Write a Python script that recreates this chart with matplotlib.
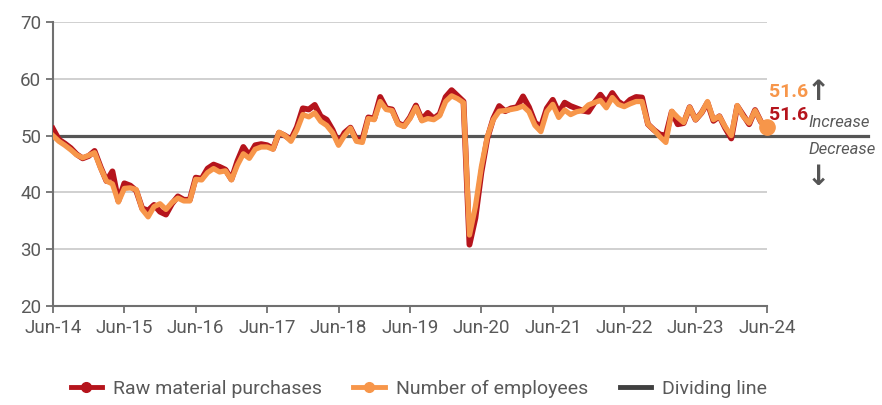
import numpy as np
import matplotlib
matplotlib.use("Agg")
from matplotlib import pyplot as plt
from matplotlib.lines import Line2D

plt.rcParams['font.family'] = ['Roboto', 'DejaVu Sans']

# monthly index values, Jun-14 .. Jun-24
raw_material = [
    51.2, 49.3, 48.6, 47.8, 46.7, 46.0, 46.4, 47.3, 44.5, 42.0, 43.7, 38.5,
    41.6, 41.2, 40.3, 37.2, 36.8, 37.8, 36.6, 36.1, 38.0, 39.3, 38.7, 38.7,
    42.6, 42.4, 44.2, 44.9, 44.5, 44.0, 42.3, 45.5, 48.0, 46.5, 48.3, 48.5,
    48.3, 47.7, 50.5, 50.0, 49.3, 51.5, 54.8, 54.6, 55.4, 53.4, 52.8, 51.0,
    48.6, 50.5, 51.4, 49.3, 49.3, 53.2, 53.0, 56.8, 54.8, 54.6, 52.2, 51.7,
    53.2, 55.3, 52.8, 54.0, 53.0, 53.8, 56.8, 58.0, 57.0, 56.0, 30.8, 35.5,
    43.5, 49.5, 53.0, 55.2, 54.3, 54.8, 55.0, 56.9, 55.0, 52.3, 51.5, 54.8,
    56.3, 54.0, 55.8, 55.2, 54.8, 54.4, 54.2, 55.8, 57.2, 55.8, 57.5, 56.0,
    55.3, 56.3, 56.8, 56.7, 52.0, 51.0, 50.2, 50.0, 54.2, 52.0, 52.2, 55.0,
    52.8, 54.0, 55.8, 52.6, 53.4, 51.3, 49.5, 55.2, 53.6, 52.0, 54.5, 52.4,
    51.6,
]
employees = [
    50.0, 49.0, 48.3, 47.5, 46.6, 46.1, 46.5, 47.0, 44.3, 42.0, 41.5, 38.3,
    40.7, 40.8, 40.5, 37.0, 35.7, 37.5, 38.0, 37.0, 38.2, 39.0, 38.5, 38.5,
    42.3, 42.2, 43.5, 44.2, 43.6, 43.8, 42.2, 44.8, 46.8, 46.0, 47.6, 48.0,
    48.0, 47.6, 50.6, 50.0, 49.0, 51.0, 53.7, 53.3, 54.0, 52.5, 51.8, 50.5,
    48.3, 50.0, 51.3, 49.0, 48.8, 53.0, 52.8, 56.0, 54.6, 54.4, 52.0, 51.6,
    53.0, 55.0, 52.6, 53.0, 52.8, 53.5, 56.0, 57.0, 56.5, 55.8, 32.5, 37.5,
    44.5, 49.8, 52.8, 54.3, 54.4, 54.6, 54.8, 55.2, 54.2, 51.8, 50.7, 54.2,
    55.5, 53.2, 54.5, 53.7, 54.2, 54.4, 55.4, 55.8, 56.2, 54.9, 56.7, 55.5,
    55.1, 55.6, 56.0, 56.0, 52.0, 51.0, 49.8, 48.8, 54.3, 53.2, 52.3, 55.0,
    52.8, 54.0, 56.0, 52.8, 53.4, 51.5, 50.0, 55.3, 53.4, 52.2, 54.4, 52.4,
    51.6,
]
tick_labels = ['Jun-14', 'Jun-15', 'Jun-16', 'Jun-17', 'Jun-18', 'Jun-19',
               'Jun-20', 'Jun-21', 'Jun-22', 'Jun-23', 'Jun-24']
dividing_value = 50

RED = '#B5141C'
ORANGE = '#F7964A'
DARK = '#555555'
GRAY = '#595959'

months = np.arange(len(raw_material))

fig = plt.figure(figsize=(8.82, 4.05), dpi=100)
ax = fig.add_axes([0.060, 0.2444, 0.8096, 0.7013])

# grid
for v in [20, 30, 40, 60, 70]:
    ax.axhline(v, color='#C8C8C8', lw=1.2, zorder=1)

# dividing line, runs past the plot into the annotation area
ax.plot([0, 137], [dividing_value, dividing_value], color=DARK, lw=2.3,
        zorder=2, clip_on=False)

ax.plot(months, raw_material, color=RED, lw=4.2, zorder=3,
        solid_joinstyle='round')
ax.plot(months, employees, color=ORANGE, lw=3.8, zorder=4,
        solid_joinstyle='round')
ax.plot(months[-1], employees[-1], 'o', color=ORANGE, ms=11, zorder=5,
        clip_on=False)

ax.set_xlim(0, 120)
ax.set_ylim(20, 70)
ax.set_xticks(months[::12])
ax.set_xticklabels(tick_labels)
ax.set_yticks([20, 30, 40, 50, 60, 70])

for s in ['top', 'right']:
    ax.spines[s].set_visible(False)
for s in ['left', 'bottom']:
    ax.spines[s].set_color('#707070')
    ax.spines[s].set_linewidth(1.5)
ax.tick_params(axis='both', colors='#707070', labelcolor=GRAY,
               labelsize=13.5, length=5, width=1.3)
ax.tick_params(axis='x', pad=4)

# end-value annotations
ax.text(120.4, 57.6, f'{employees[-1]:.1f}', color=ORANGE, fontsize=14,
        fontweight='bold', ha='left', va='center', clip_on=False)
ax.text(120.4, 53.6, f'{raw_material[-1]:.1f}', color=RED, fontsize=14,
        fontweight='bold', ha='left', va='center', clip_on=False)
ax.text(128.7, 57.6, '↑', color=DARK, fontsize=20, fontweight='bold',
        ha='center', va='center', family=['DejaVu Sans'], clip_on=False)
ax.text(126.9, 50.9, 'Increase', color=GRAY, fontsize=12, style='italic',
        ha='left', va='bottom', clip_on=False)
ax.text(126.9, 48.9, 'Decrease', color=GRAY, fontsize=12, style='italic',
        ha='left', va='top', clip_on=False)
ax.text(128.7, 42.8, '↓', color=DARK, fontsize=20, fontweight='bold',
        ha='center', va='center', family=['DejaVu Sans'], clip_on=False)

handles = [
    Line2D([], [], color=RED, lw=3.5, marker='o', ms=7),
    Line2D([], [], color=ORANGE, lw=3.5, marker='o', ms=7),
    Line2D([], [], color='#404040', lw=3.5),
]
fig.legend(handles, ['Raw material purchases', 'Number of employees',
                     'Dividing line'],
           loc='center', bbox_to_anchor=(0.475, 0.04), ncol=3, frameon=False,
           fontsize=14, handlelength=1.6, columnspacing=1.6,
           labelcolor=GRAY, handletextpad=0.6)

fig.savefig('out.png', dpi=100)
